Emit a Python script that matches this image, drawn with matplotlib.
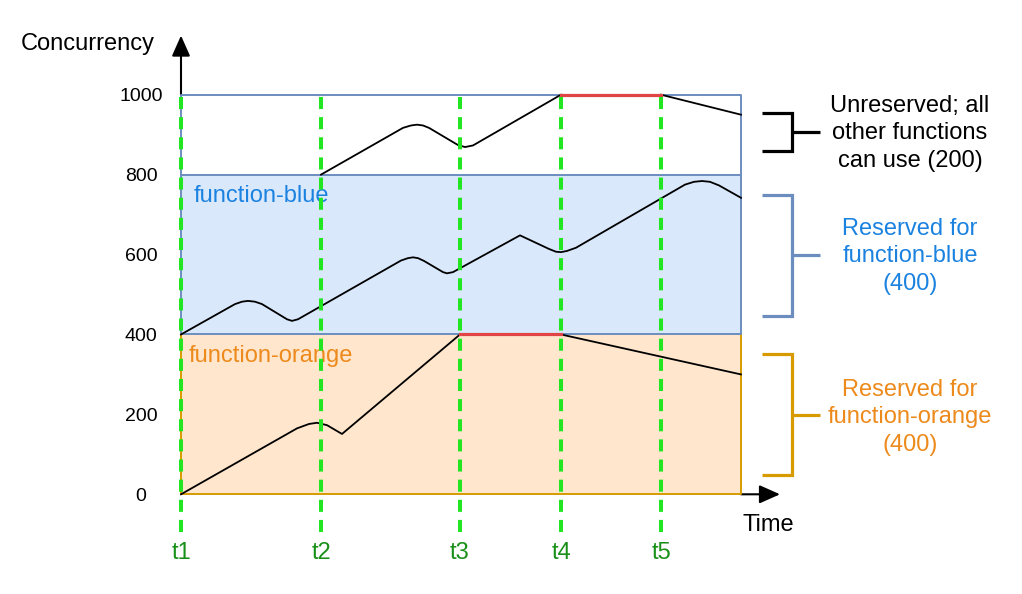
import matplotlib
matplotlib.use("Agg")
import matplotlib.pyplot as plt

plt.rcParams['font.family'] = ['Liberation Sans', 'DejaVu Sans']

# ---- data ----
band_edges = [0, 400, 800, 1000]          # orange, blue, unreserved
t_names = ["t1", "t2", "t3", "t4", "t5"]
t_pos = [0.0, 1.40, 2.79, 3.80, 4.80]
x_end = 5.60

y_ticks = [0, 200, 400, 600, 800, 1000]

# function-orange usage
orange_x = [0.0, 1.16, 1.28, 1.36, 1.46, 1.61, 2.79]
orange_y = [0, 165, 176, 179, 173, 151, 400]
orange_cap_x = [2.79, 3.80]
orange_cap_y = [400, 400]
orange_tail_x = [3.80, 5.60]
orange_tail_y = [400, 300]

# function-blue usage
blue_x = [0.0, 0.54, 0.61, 0.67, 0.74, 0.81, 1.06, 1.11, 1.17, 2.20, 2.27, 2.32, 2.37, 2.43,
          2.62, 2.66, 2.72, 3.39, 3.68, 3.75, 3.80, 3.86, 3.95, 5.04, 5.13, 5.21, 5.29, 5.38, 5.60]
blue_y = [400, 476, 482, 484, 482, 476, 438, 434, 438, 585, 591, 593, 591, 584,
          556, 553, 556, 648, 614, 607, 606, 609, 617, 775, 782, 784, 782, 773, 742]

# unreserved pool usage
unres_x = [1.40, 2.22, 2.30, 2.36, 2.42, 2.48, 2.77, 2.84, 2.92, 3.80]
unres_y = [800, 917, 923, 925, 923, 917, 874, 869, 873, 1000]
unres_cap_x = [3.80, 4.80]
unres_cap_y = [1000, 1000]
unres_tail_x = [4.80, 5.60]
unres_tail_y = [1000, 950]

# ---- styles ----
C_BLUE_FILL = "#dae8fc"
C_BLUE_EDGE = "#6c8ebf"
C_OR_FILL = "#ffe6cc"
C_OR_EDGE = "#d79b00"
C_GREEN = "#22e622"
C_GREEN_TXT = "#1a901a"
C_RED = "#e04444"
C_BLUE_TXT = "#1b82e0"
C_OR_TXT = "#ed8a1c"

fig = plt.figure(figsize=(10.22, 5.94), dpi=100)
ax = fig.add_axes([181 / 1022, (594 - 494.3) / 594, 560 / 1022, 399.6 / 594])
ax.set_xlim(0, x_end)
ax.set_ylim(0, 1000)
for s in ax.spines.values():
    s.set_visible(False)
ax.set_xticks([])
ax.set_yticks(y_ticks)
ax.set_yticklabels([str(v) for v in y_ticks], fontsize=14)
ax.tick_params(axis='y', length=0, pad=28.8)
for lab in ax.get_yticklabels():
    lab.set_horizontalalignment('center')
ax.patch.set_alpha(0)

# bands
ax.fill_between([0, x_end], band_edges[0], band_edges[1], color=C_OR_FILL, lw=0, zorder=1)
ax.fill_between([0, x_end], band_edges[1], band_edges[2], color=C_BLUE_FILL, lw=0, zorder=1)

# axes arrows
ax.annotate('', xy=(0, 1148), xytext=(0, 1000), annotation_clip=False,
            arrowprops=dict(arrowstyle='-|>,head_length=0.9,head_width=0.4', color='black',
                            lw=1.5, mutation_scale=14, shrinkA=0, shrinkB=0), zorder=3)
ax.annotate('', xy=(5.99, 0), xytext=(x_end, 0), annotation_clip=False,
            arrowprops=dict(arrowstyle='-|>,head_length=0.9,head_width=0.4', color='black',
                            lw=1.5, mutation_scale=14, shrinkA=0, shrinkB=0), zorder=3)

# box borders
kw = dict(solid_capstyle='projecting', clip_on=False, zorder=3)
ax.plot([0, 0, x_end, x_end], [band_edges[1], band_edges[0], band_edges[0], band_edges[1]],
        color=C_OR_EDGE, lw=1.4, **kw)
ax.plot([0, 0, x_end, x_end, 0], [band_edges[1], band_edges[3], band_edges[3], band_edges[1], band_edges[1]],
        color=C_BLUE_EDGE, lw=1.4, **kw)
ax.plot([0, x_end], [band_edges[2], band_edges[2]], color=C_BLUE_EDGE, lw=1.4, **kw)

# usage curves
lkw = dict(color='black', lw=1.3, clip_on=False, zorder=4, solid_joinstyle='round')
ax.plot(orange_x, orange_y, **lkw)
ax.plot(orange_tail_x, orange_tail_y, **lkw)
ax.plot(blue_x, blue_y, **lkw)
ax.plot(unres_x, unres_y, **lkw)
ax.plot(unres_tail_x, unres_tail_y, **lkw)
ax.plot(orange_cap_x, orange_cap_y, color=C_RED, lw=2.3, zorder=5, clip_on=False)
ax.plot(unres_cap_x, unres_cap_y, color=C_RED, lw=2.3, zorder=5, clip_on=False)

# inner labels
ax.text(0.123, 746, "function-blue", color=C_BLUE_TXT, fontsize=17, ha='left', va='center', zorder=5)
ax.text(0.073, 346, "function-orange", color=C_OR_TXT, fontsize=17, ha='left', va='center', zorder=5)

# time markers
ax.vlines(t_pos, -94, 1000, colors=C_GREEN, lw=2.9, linestyles=(0, (3, 2)), zorder=6, clip_on=False)
for name, tp in zip(t_names, t_pos):
    ax.text(tp, -147, name, color=C_GREEN_TXT, fontsize=17, ha='center', va='center', clip_on=False)

# axis titles
ax.text(-0.93, 1128, "Concurrency", fontsize=17, ha='center', va='center')
ax.text(5.87, -77, "Time", fontsize=17, ha='center', va='center')

# brackets
bx0, bx1, bx2 = 5.807, 6.107, 6.39
brackets = [((955, 859), 'black'), ((749, 446.5), C_BLUE_EDGE), ((350, 48), C_OR_EDGE)]
for (top, bot), col in brackets:
    mid = (top + bot) / 2
    ax.plot([bx0, bx1, bx1, bx0], [top, top, bot, bot], color=col, lw=2.3,
            solid_joinstyle='miter', solid_capstyle='butt', clip_on=False)
    ax.plot([bx1, bx2], [mid, mid], color=col, lw=2.3, solid_capstyle='butt', clip_on=False)

tx = 7.29
ls = 1.33
ax.text(tx, 903, "Unreserved; all\nother functions\ncan use (200)", fontsize=17, ha='center',
        va='center', linespacing=ls, clip_on=False)
ax.text(tx, 596, "Reserved for\nfunction-blue\n(400)", fontsize=17, ha='center', va='center',
        color=C_BLUE_TXT, linespacing=ls, clip_on=False)
ax.text(tx, 193, "Reserved for\nfunction-orange\n(400)", fontsize=17, ha='center', va='center',
        color=C_OR_TXT, linespacing=ls, clip_on=False)

fig.savefig("out.png", dpi=100)
